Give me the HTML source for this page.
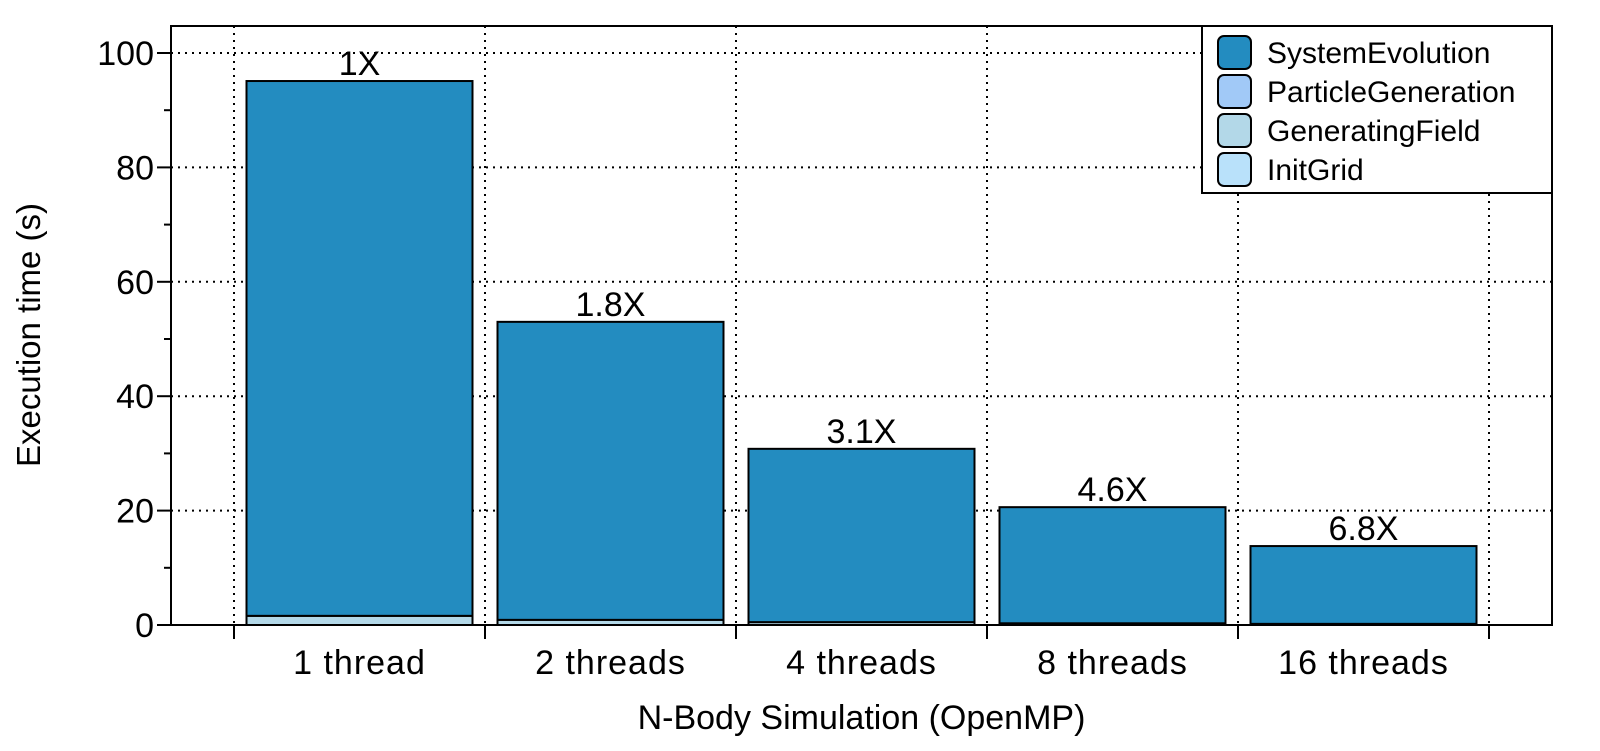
<!DOCTYPE html>
<html><head><meta charset="utf-8"><style>
body{margin:0;background:#fff}
svg text{font-family:"Liberation Sans",Arial,sans-serif;fill:#000}
</style></head><body>
<svg id="chart" width="1600" height="746" xmlns="http://www.w3.org/2000/svg"></svg>
<script>
const categories=["1 thread","2 threads","4 threads","8 threads","16 threads"];
const systemEvolution=[93.5,52.1,30.3,20.3,13.6];
const particleGeneration=[0,0,0,0,0];
const generatingField=[1.6,0.9,0.5,0.3,0.2];
const initGrid=[0,0,0,0,0];
const speedups=["1X","1.8X","3.1X","4.6X","6.8X"];
const yTicks=[0,20,40,60,80,100];
const yMinor=[10,30,50,70,90];

const NS="http://www.w3.org/2000/svg";
const svg=document.getElementById('chart');
const L=171,R=1552,T=26,B=625;
const y=v=>B-(v/100)*(B-53);
const step=251, x0=234;
const xc=i=>x0+step*(i+0.5);
const bw=226;
function mk(tag,a,parent){const e=document.createElementNS(NS,tag);for(const k in a)e.setAttribute(k,a[k]);(parent||svg).appendChild(e);return e;}

yTicks.forEach(v=>{if(v>0){const g=mk('line',{x1:L,x2:R,y1:y(v),y2:y(v),stroke:'#000','stroke-width':2,'stroke-dasharray':'2,5'});

}});
for(let i=0;i<=categories.length;i++){const gx=x0+step*i;const g=mk('line',{x1:gx,x2:gx,y1:T,y2:B,stroke:'#000','stroke-width':2,'stroke-dasharray':'2,5'});


const t=mk('line',{x1:gx,x2:gx,y1:B,y2:B+14,stroke:'#000','stroke-width':2});

}

const series=[[generatingField,'#b3d8e8','generating-field'],[initGrid,'#b9e1fa','init-grid'],[particleGeneration,'#a1c9f7','particle-generation'],[systemEvolution,'#238cc0','system-evolution']];
categories.forEach((c,i)=>{
  let base=0;
  series.forEach(([arr,col,nm])=>{
    const v=arr[i]; if(v<=0)return;
    const r=mk('rect',{x:xc(i)-bw/2,y:y(base+v),width:bw,height:y(base)-y(base+v),fill:col,stroke:'#000','stroke-width':2});
    
    
    base+=v;
  });
  const lab=mk('text',{x:xc(i),y:y(base)-6,'text-anchor':'middle','font-size':34});
  lab.textContent=speedups[i];
  
  
  const xl=mk('text',{x:xc(i),y:674,'text-anchor':'middle','font-size':34,'letter-spacing':'1'});
  xl.textContent=c;
  
  
});

const fr=mk('rect',{x:L,y:T,width:R-L,height:B-T,fill:'none',stroke:'#000','stroke-width':2});


yTicks.forEach(v=>{
  const t=mk('line',{x1:L-14,x2:L,y1:y(v),y2:y(v),stroke:'#000','stroke-width':2});
  
  
  const tl=mk('text',{x:L-17,y:y(v)+12,'text-anchor':'end','font-size':34});
  tl.textContent=v;
  
  
});
yMinor.forEach(v=>{const t=mk('line',{x1:L-7,x2:L,y1:y(v),y2:y(v),stroke:'#000','stroke-width':2});

});

const yt=mk('text',{x:0,y:0,transform:'translate(40,335) rotate(-90)','text-anchor':'middle','font-size':33});
yt.textContent='Execution time (s)';


const xt=mk('text',{x:(L+R)/2,y:729,'text-anchor':'middle','font-size':34});
xt.textContent='N-Body Simulation (OpenMP)';



const lg=mk('g',{});


const lb=mk('rect',{x:1202,y:T,width:R-1202,height:167,fill:'#fff',stroke:'#000','stroke-width':2},lg);


const legendItems=[['SystemEvolution','#238cc0'],['ParticleGeneration','#a1c9f7'],['GeneratingField','#b3d8e8'],['InitGrid','#b9e1fa']];
legendItems.forEach(([n,c],k)=>{
  const cy=52+k*39;
  const s=mk('rect',{x:1218,y:cy-16,width:33,height:33,rx:6,fill:c,stroke:'#000','stroke-width':2},lg);
  
  
  const t=mk('text',{x:1267,y:cy+11,'font-size':30},lg);
  t.textContent=n;
  
  
});
</script>
</body></html>
